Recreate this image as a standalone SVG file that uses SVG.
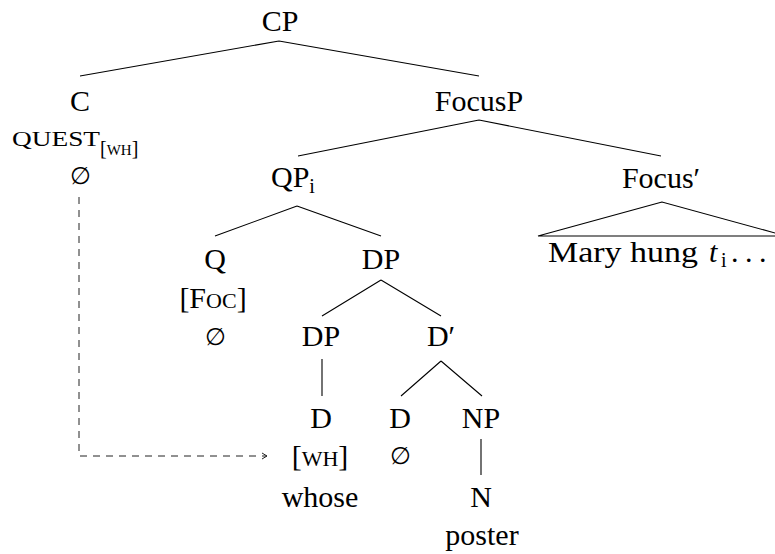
<svg xmlns="http://www.w3.org/2000/svg" width="775" height="554" viewBox="0 0 775 554">
  <style>
    text { font-family: "Liberation Serif", "Times New Roman", serif; font-size: 30px; fill: #000; }
    .c { text-anchor: middle; }
    .sc { font-size: 22px; }
    .sub { font-size: 20px; }
    .subsc { font-size: 15px; }
    .null { font-family: "DejaVu Serif", serif; font-size: 24px; font-weight: 200; }
    .edge { stroke: #000; stroke-width: 1.1; fill: none; }
    .move { stroke: #222; stroke-width: 1; fill: none; stroke-dasharray: 7 6; }
  </style>
  <defs>
    <marker id="tip" viewBox="0 0 8 8" refX="6" refY="4" markerWidth="8" markerHeight="8" markerUnits="userSpaceOnUse" orient="auto">
      <path d="M1,1 L6,4 L1,7" stroke="#222" stroke-width="1" fill="none"/>
    </marker>
  </defs>

  <!-- tree edges -->
  <g id="connectors">
    <path class="edge" d="M279,41 L80,76 M279,41 L479,76"/>
    <path class="edge" d="M479,120 L298,156 M479,120 L661,156"/>
    <path class="edge" d="M297,206 L215,236 M297,206 L381,236"/>
    <path class="edge" d="M381,280 L322,316 M381,280 L441,316"/>
    <path class="edge" d="M441,361 L401,396 M441,361 L482,396"/>
    <path class="edge" d="M322,359 L322,396"/>
    <path class="edge" d="M481,439 L481,475"/>
    <polygon class="edge" points="662,202 538,236 786,236"/>
    <!-- feature-checking path from C to the wh-determiner -->
    <path class="move" d="M79,197 L79,456 L267,456" marker-end="url(#tip)"/>
  </g>

  <g id="cp"><text class="c" x="280" y="31">CP</text></g>

  <g id="c">
    <text class="c" x="80" y="111">C</text>
    <text x="12" y="146" class="sc" textLength="88" lengthAdjust="spacingAndGlyphs">QUEST</text>
    <text x="100" y="155"><tspan class="sub">[</tspan><tspan class="subsc">WH</tspan><tspan class="sub">]</tspan></text>
    <text class="c null" x="80" y="184">∅</text>
  </g>

  <g id="focusp"><text class="c" x="479" y="111">FocusP</text></g>

  <g id="qp"><text x="271" y="187">QP<tspan class="sub" dy="6">i</tspan></text></g>

  <g id="focusbar">
    <text class="c" x="661" y="188">Focus′</text>
    <text x="548" y="262" textLength="150" lengthAdjust="spacingAndGlyphs">Mary hung</text>
    <text x="709" y="262" font-style="italic">t</text>
    <text x="721" y="267" class="sub">i</text>
    <text x="731 745 759" y="262">...</text>
  </g>

  <g id="q">
    <text class="c" x="215" y="269">Q</text>
    <text class="c" x="213" y="308">[F<tspan class="sc">OC</tspan>]</text>
    <text class="c null" x="215" y="345">∅</text>
  </g>

  <g id="dp-top"><text class="c" x="381" y="269">DP</text></g>

  <g id="dp-spec"><text class="c" x="321" y="346">DP</text></g>

  <g id="dbar"><text class="c" x="441" y="346">D′</text></g>

  <g id="d-wh">
    <text class="c" x="321" y="428">D</text>
    <text class="c" x="320" y="466">[<tspan class="sc">WH</tspan>]</text>
    <text class="c" x="320" y="507">whose</text>
  </g>

  <g id="d-null">
    <text class="c" x="400" y="428">D</text>
    <text class="c null" x="400" y="464">∅</text>
  </g>

  <g id="np">
    <text class="c" x="481" y="428">NP</text>
    <text class="c" x="481" y="507">N</text>
    <text class="c" x="482" y="545">poster</text>
  </g>
</svg>
